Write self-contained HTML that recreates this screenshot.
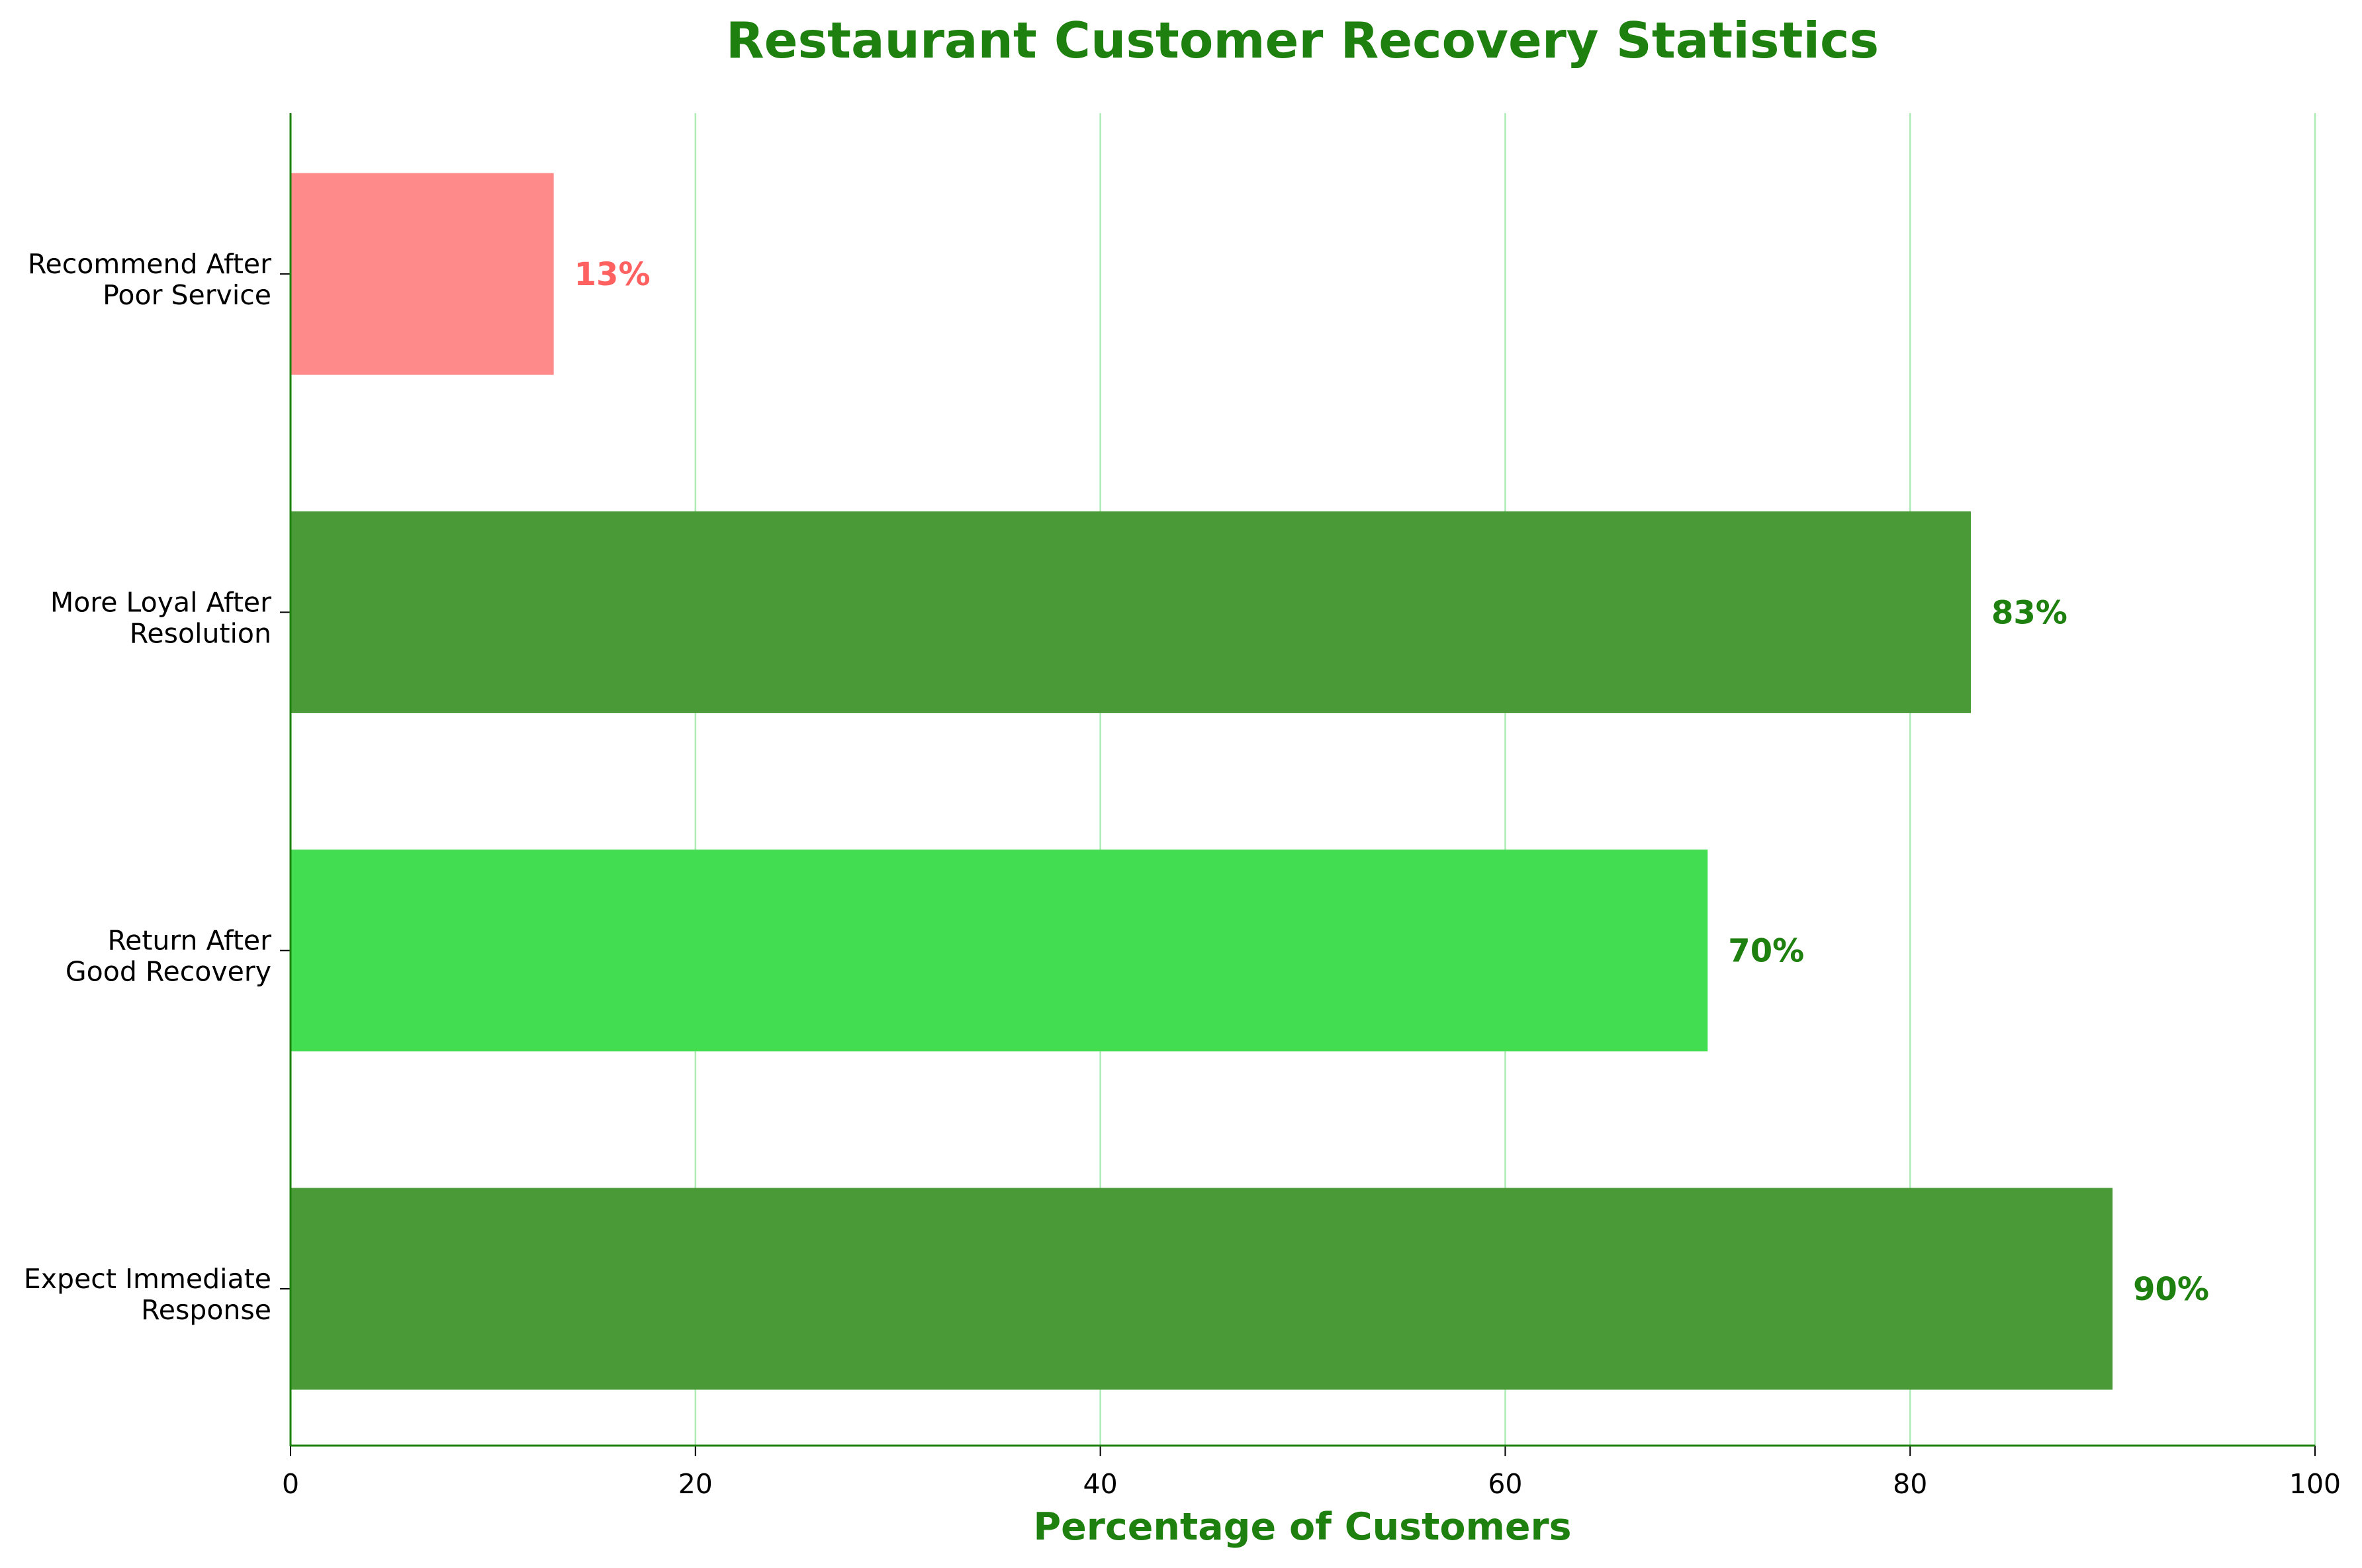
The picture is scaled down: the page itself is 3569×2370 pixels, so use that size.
<!DOCTYPE html>
<html><head><meta charset="utf-8"><style>
html,body{margin:0;padding:0;background:#fff;}
svg{display:block;font-family:"DejaVu Sans","Liberation Sans",sans-serif;}
</style></head><body>
<svg id="chart" width="3569" height="2370" viewBox="0 0 3569 2370">
<text x="1968" y="87" text-anchor="middle" font-size="75" font-weight="bold" fill="#1e800e">Restaurant Customer Recovery Statistics</text>
<g id="grid"></g><g id="bars"></g><g id="axes"></g>
<text x="1968" y="2327" text-anchor="middle" font-size="57" font-weight="bold" fill="#1e800e">Percentage of Customers</text>
</svg>
<script>
const categories = [["Expect Immediate","Response"],["Return After","Good Recovery"],["More Loyal After","Resolution"],["Recommend After","Poor Service"]];
const values = [90, 70, 83, 13];
const barColors = ["#4a9b37","#42dd50","#4a9b37","#ff8a8a"];
const labelColors = ["#1e800e","#1e800e","#1e800e","#ff6060"];
const xTicks = [0,20,40,60,80,100];
const NS="http://www.w3.org/2000/svg";
const L=439,R=3498,T=171,B=2185;
const x=v=>L+(v-0)/(100-0)*(R-L);
const yC=i=>1948-i*511.3;
const bh=305;
function mk(t,a,p){const e=document.createElementNS(NS,t);for(const k in a)e.setAttribute(k,a[k]);p.appendChild(e);return e;}
const grid=document.getElementById('grid'),bars=document.getElementById('bars'),axes=document.getElementById('axes');
xTicks.forEach(t=>{
  const g=mk('line',{x1:x(t),x2:x(t),y1:T,y2:B,stroke:'#9be8a5','stroke-width':2.5,opacity:0.8},grid);
  
  
  const tk=mk('line',{x1:x(t),x2:x(t),y1:B,y2:B+16,stroke:'#000','stroke-width':2},axes);
  
  
  const lb=mk('text',{x:x(t),y:B+72,'text-anchor':'middle','font-size':41,fill:'#000'},axes);
  lb.textContent=t;
  
  
});
values.forEach((v,i)=>{
  const r=mk('rect',{x:x(0),y:yC(i)-bh/2,width:x(v)-x(0),height:bh,fill:barColors[i]},bars);
  
  
  const vl=mk('text',{x:x(v)+31,y:yC(i)+17,'font-size':48,'font-weight':'bold',fill:labelColors[i]},bars);
  vl.textContent=v+'%';
  
  
  const tk=mk('line',{x1:L-16,x2:L,y1:yC(i),y2:yC(i),stroke:'#000','stroke-width':2},axes);
  
  
  const cl=mk('text',{x:L-29,y:yC(i)-1,'text-anchor':'end','font-size':41,fill:'#000'},axes);
  
  
  categories[i].forEach((ln,j)=>{const s=mk('tspan',{x:L-29,dy:j==0?0:47},cl);s.textContent=ln;});
});
const sl=mk('line',{x1:L,x2:L,y1:T,y2:B+1,stroke:'#1e800e','stroke-width':3},axes);


const sb=mk('line',{x1:L,x2:R,y1:B,y2:B,stroke:'#1e800e','stroke-width':3},axes);


</script>
</body></html>
